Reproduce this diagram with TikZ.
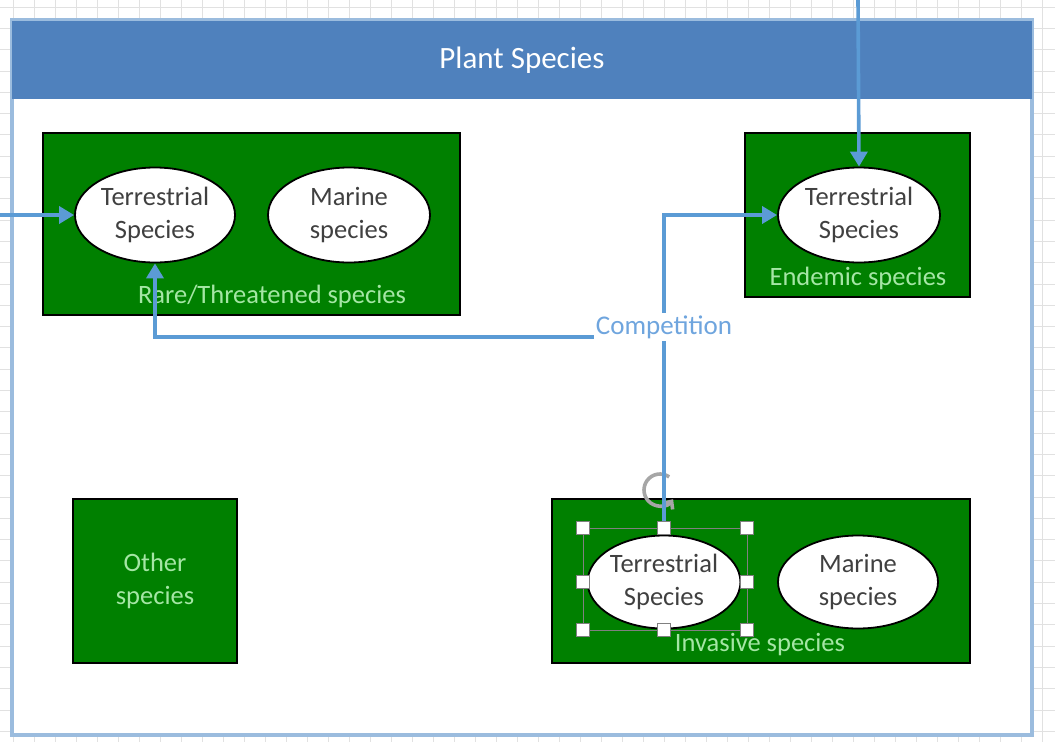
\documentclass[tikz,border=0pt]{standalone}
\usepackage{fontspec}
\setmainfont{Carlito}
\usetikzlibrary{shapes.geometric,arrows.meta,calc}
\definecolor{hdrblue}{RGB}{79,129,189}
\definecolor{arrblue}{RGB}{91,155,213}
\definecolor{contblue}{RGB}{155,188,222}
\definecolor{boxgreen}{RGB}{0,128,0}
\definecolor{lblgreen}{RGB}{165,230,165}
\definecolor{ovaltext}{RGB}{64,64,64}
\definecolor{complbl}{RGB}{111,165,222}
\definecolor{gridc}{RGB}{225,225,225}
\begin{document}
\begin{tikzpicture}[x=1pt,y=-1pt,
  greenbox/.style={draw=black, line width=2pt, fill=boxgreen, inner sep=0pt},
  oval/.style={ellipse, draw=black, line width=1.8pt, fill=white, inner sep=0pt, align=center,
    text=ovaltext, font=\fontsize{26.5}{32.5}\selectfont},
  grouplbl/.style={text=lblgreen, font=\fontsize{26.5}{32.5}\selectfont, inner sep=0pt, align=center},
  conn/.style={draw=arrblue, line width=3.6pt, -{Triangle[length=15pt,width=17pt]}},
  handle/.style={draw=gray, line width=1pt, fill=white, minimum size=13pt, inner sep=0pt}]
\useasboundingbox (0,0) rectangle (1055,742);
% background grid
\foreach \gx in {0,...,50} {\draw[gridc, line width=0.8pt] ({13+21*\gx},0) -- ({13+21*\gx},742);}
\foreach \gy in {0,...,35} {\draw[gridc, line width=0.8pt] (0,{7+21.3*\gy}) -- (1055,{7+21.3*\gy});}
% container
\node[draw=contblue, line width=3.5pt, fill=white, minimum width=1020pt, minimum height=715pt, inner sep=0pt] (cont) at (522,377.5) {};
\node[fill=hdrblue, minimum width=1020pt, minimum height=78pt, inner sep=0pt, text=white,
  font=\fontsize{31}{36}\selectfont] (hdr) at (522,60) {Plant Species};
% green group boxes
\node[greenbox, minimum width=417pt, minimum height=182pt] (rare) at (251.5,224) {};
\node[greenbox, minimum width=225pt, minimum height=164pt] (endem) at (857.5,215) {};
\node[greenbox, minimum width=164pt, minimum height=164pt, grouplbl] (other) at (155,581) {Other\\species};
\node[greenbox, minimum width=418pt, minimum height=164pt] (inv) at (761,581) {};
% ovals
\node[oval, minimum width=160pt, minimum height=95pt] (rt) at (155,215) {Terrestrial\\Species};
\node[oval, minimum width=162pt, minimum height=95pt] (rm) at (349,215) {Marine\\species};
\node[oval, minimum width=162pt, minimum height=95pt] (et) at (859,215) {Terrestrial\\Species};
\node[oval, minimum width=152pt, minimum height=93pt] (it) at (664,582) {Terrestrial\\Species};
\node[oval, minimum width=160pt, minimum height=93pt] (im) at (858,582) {Marine\\species};
% group labels
\node[grouplbl] (rarelbl) at (272,296) {Rare/Threatened species};
\node[grouplbl] (endlbl) at (858,278) {Endemic species};
\node[grouplbl] (invlbl) at (760,645) {Invasive species};
% rotation handle (under the connector)
\coordinate (rot) at (660,490);
\draw[gray!70, line width=3.6pt, -{Straight Barb[length=6pt,width=11pt]}] ([shift={(55:16pt)}]rot) arc[start angle=55, end angle=325, radius=16pt];
% connectors
\coordinate (lin) at (0,215);
\coordinate (tin) at (858,0);
\coordinate (bend) at (664,337);
\draw[conn] (lin) -- (rt.west);
\draw[conn] (tin) -- (et.north);
\draw[conn] (it.north) |- (et.west);
\draw[conn] (it.north) -- (bend) -| (rt.south);
\node[fill=white, text=complbl, inner sep=2pt, font=\fontsize{27}{32}\selectfont] (comp) at (664,327) {Competition};
% selection frame and handles
\draw[gray, line width=1pt] (583,528) rectangle (747,630);
\foreach \hx/\hy [count=\k] in {583/528,664/528,747/528,583/582,747/582,583/630,664/630,747/630}
  {\node[handle] (h\k) at (\hx,\hy) {};}
\end{tikzpicture}
\end{document}
